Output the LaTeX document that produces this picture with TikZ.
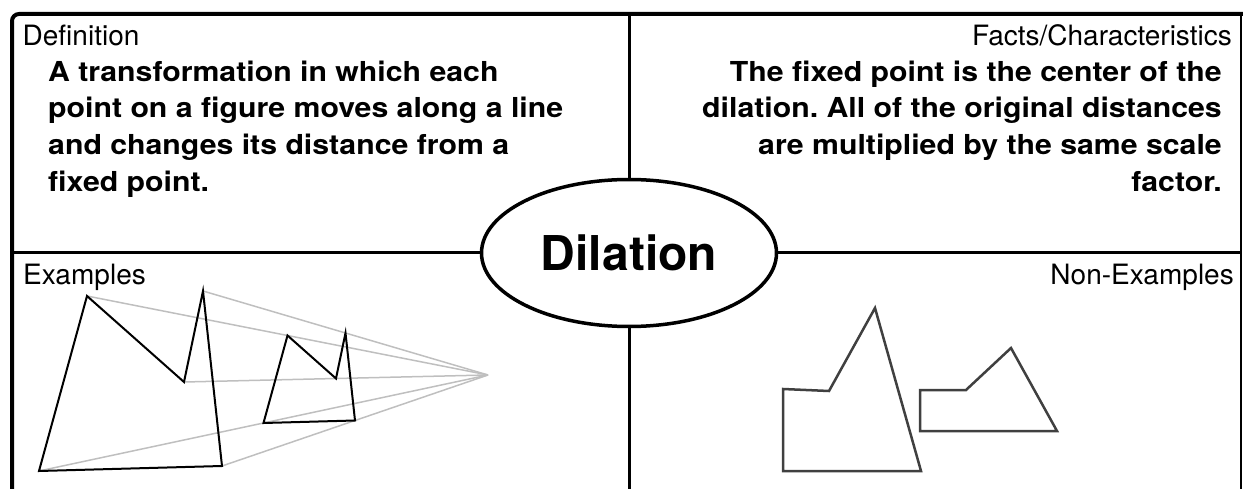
\documentclass[tikz,border=0pt]{standalone}
\usepackage{fontspec}
\setmainfont{TeX Gyre Heros}
\newfontfamily\bodyfont{TeX Gyre Heros}[BoldFeatures={FakeStretch=1.1}]
\usetikzlibrary{calc,shapes.geometric}
\frenchspacing
\tikzset{
  frameline/.style={line width=4pt, black},
  divline/.style={line width=3pt, black},
  dilnode/.style={ellipse, draw=black, line width=3.5pt, fill=white,
    minimum width=295pt, minimum height=147pt, inner sep=0pt,
    font=\fontsize{48}{52}\selectfont\bfseries},
  lbl/.style={inner sep=0pt, font=\fontsize{28}{30}\selectfont},
  bodytext/.style={inner sep=0pt, font=\fontsize{27.5}{36.7}\selectfont\bodyfont\bfseries},
  figline/.style={line width=2pt, black},
  rayline/.style={line width=1.5pt, black!25},
  nonfig/.style={line width=2.5pt, black!75},
}
\begin{document}
\begin{tikzpicture}[x=1pt, y=-1pt]
\useasboundingbox (0,0) rectangle (1243,489);

% ================= FRAME =================
\draw[frameline, rounded corners=7pt] (12,489) -- (12,14) -- (1243,14);
\draw[line width=1.5pt] (1241,14) -- (1241,489);

\node[dilnode] (dil) at (629,253) {Dilation};

\coordinate (topmid) at (629,14);
\coordinate (botmid) at (629,489);
\coordinate (leftmid) at (12,253);
\coordinate (rightmid) at (1241,253);
\draw[divline] (topmid) -- (dil.north);
\draw[divline] (dil.south) -- (botmid);
\draw[divline] (leftmid) -- (dil.west);
\draw[divline] (dil.east) -- (rightmid);

% ================= LABELS =================
\node[lbl, anchor=base west] (deflbl) at (22.5,46) {Definition};
\node[lbl, anchor=base east] (factlbl) at (1232,46) {Facts/Characteristics};
\node[lbl, anchor=base west] (exlbl) at (23,284) {Examples};
\node[lbl, anchor=base east] (nonlbl) at (1234,284) {Non-Examples};

\node[bodytext, anchor=north west, align=left] (deftext) at (48,60.5)
  {A transformation in which each\\
   point on a figure moves along a line\\
   and changes its distance from a\\
   fixed point.};
\node[bodytext, anchor=north east, align=right] (facttext) at (1222,60.5)
  {The fixed point is the center of the\\
   dilation. All of the original distances\\
   are multiplied by the same scale\\
   factor.};

% ================= EXAMPLES =================
\coordinate (ctr) at (488,375);
\coordinate (a1) at (87,296);
\coordinate (a2) at (184,382);
\coordinate (a3) at (203,291);
\coordinate (a4) at (222,466);
\coordinate (a5) at (39,471);
\foreach \i in {1,...,5}
  \coordinate (b\i) at ($(ctr)!0.5!(a\i)$);

\foreach \i in {1,...,5}
  \draw[rayline] (a\i) -- (ctr);

\draw[figline] (a1) -- (a2) -- (a3) -- (a4) -- (a5) -- cycle;
\draw[figline] (b1) -- (b2) -- (b3) -- (b4) -- (b5) -- cycle;

% ================= NON-EXAMPLES =================
\draw[nonfig] (783,389) -- (829,391) -- (875,308) -- (921,471) -- (783,471) -- cycle;
\draw[nonfig] (920,390) -- (966,390) -- (1011,348) -- (1057,431) -- (920,431) -- cycle;

\end{tikzpicture}
\end{document}
